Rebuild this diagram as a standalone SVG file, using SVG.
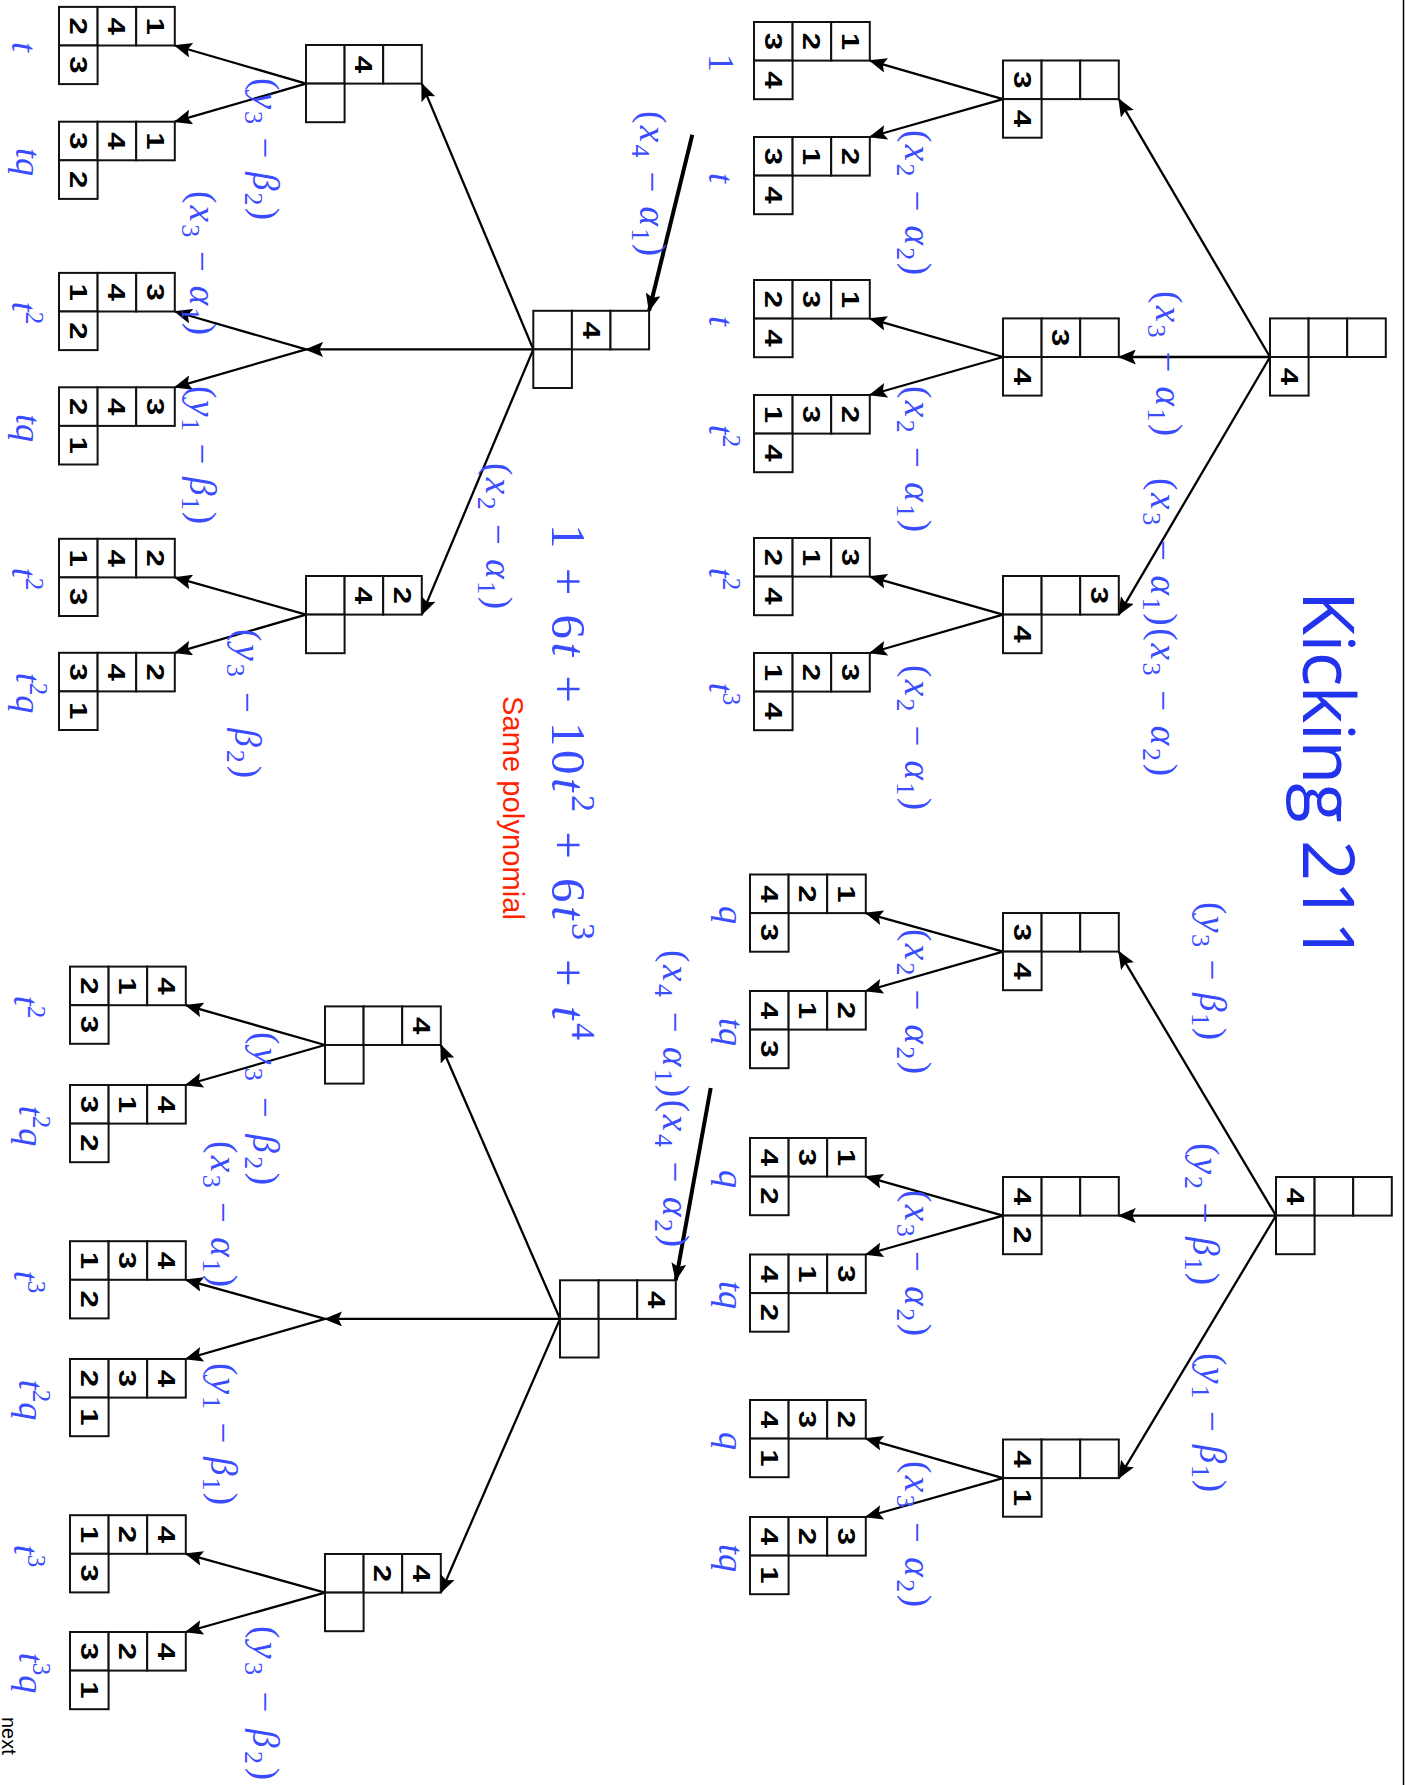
<svg xmlns="http://www.w3.org/2000/svg" width="1405" height="1785" viewBox="0 0 1405 1785">
<style>
.d{font-family:"Liberation Sans",Arial,sans-serif;font-weight:bold;font-size:24px;text-anchor:middle;fill:#000}
.e{font-family:"Liberation Serif","DejaVu Serif",serif;font-size:37px;fill:#3a4cff}
.w{font-family:"Liberation Serif","DejaVu Serif",serif;font-size:36px;fill:#3a4cff;text-anchor:middle}
.poly{font-family:"Liberation Serif","DejaVu Serif",serif;font-size:49px;fill:#3a4cff}
.i{font-style:italic}
.s{font-size:26px}
.sp{font-size:25px}
.pp{font-size:34px}
.ln{stroke:#000;stroke-width:2.3;fill:none;marker-end:url(#ah)}
.tk{stroke:#000;stroke-width:4;fill:none;marker-end:url(#ah)}
</style>
<defs>
<marker id="ah" viewBox="0 0 18 15" refX="17" refY="7.5" markerWidth="18" markerHeight="15" orient="auto" markerUnits="userSpaceOnUse"><path d="M0,0 L18,7.5 L0,15 L3.5,7.5 z" fill="#000"/></marker>
<g id="cells" fill="#fff" stroke="#111" stroke-width="2">
<rect x="0" y="0" width="38.6" height="38.6"/>
<rect x="38.6" y="0" width="38.6" height="38.6"/>
<rect x="77.2" y="0" width="38.6" height="38.6"/>
<rect x="0" y="38.6" width="38.6" height="38.6"/>
</g>
</defs>
<rect x="0" y="0" width="1405" height="1785" fill="#fff"/>
<line x1="1403.5" y1="0" x2="1403.5" y2="1785" stroke="#000" stroke-width="1.5"/>

<g id="connectors">
<line class="ln" x1="1270" y1="357" x2="1118.8" y2="99.1"/>
<line class="ln" x1="1270" y1="357" x2="1118.8" y2="357"/>
<line class="ln" x1="1270" y1="357" x2="1118.8" y2="614.6"/>
<line class="ln" x1="1003" y1="99.1" x2="869.8" y2="60.6"/>
<line class="ln" x1="1003" y1="99.1" x2="869.8" y2="137"/>
<line class="ln" x1="1003" y1="357" x2="869.8" y2="318.6"/>
<line class="ln" x1="1003" y1="357" x2="869.8" y2="395"/>
<line class="ln" x1="1003" y1="614.6" x2="869.8" y2="576.6"/>
<line class="ln" x1="1003" y1="614.6" x2="869.8" y2="653"/>
<line class="ln" x1="1276" y1="1215.6" x2="1118.8" y2="951.6"/>
<line class="ln" x1="1276" y1="1215.6" x2="1118.8" y2="1215.6"/>
<line class="ln" x1="1276" y1="1215.6" x2="1118.8" y2="1478.1"/>
<line class="ln" x1="1003" y1="951.6" x2="865.8" y2="913.1"/>
<line class="ln" x1="1003" y1="951.6" x2="865.8" y2="991"/>
<line class="ln" x1="1003" y1="1215.6" x2="865.8" y2="1176.6"/>
<line class="ln" x1="1003" y1="1215.6" x2="865.8" y2="1254.5"/>
<line class="ln" x1="1003" y1="1478.1" x2="865.8" y2="1438.6"/>
<line class="ln" x1="1003" y1="1478.1" x2="865.8" y2="1517"/>
<line class="ln" x1="533.3" y1="349.4" x2="421.8" y2="83.6"/>
<line class="ln" x1="533.3" y1="349.4" x2="306" y2="349.4"/>
<line class="ln" x1="533.3" y1="349.4" x2="421.8" y2="614.6"/>
<line class="ln" x1="306" y1="83.6" x2="174.8" y2="45.5"/>
<line class="ln" x1="306" y1="83.6" x2="174.8" y2="121.7"/>
<line class="ln" x1="306" y1="349.4" x2="174.8" y2="311.5"/>
<line class="ln" x1="306" y1="349.4" x2="174.8" y2="387.3"/>
<line class="ln" x1="306" y1="614.6" x2="174.8" y2="577.4"/>
<line class="ln" x1="306" y1="614.6" x2="174.8" y2="652.8"/>
<line class="tk" x1="692.3" y1="134.7" x2="649.1" y2="310.8"/>
<line class="ln" x1="560" y1="1318.9" x2="440.8" y2="1045"/>
<line class="ln" x1="560" y1="1318.9" x2="325" y2="1318.9"/>
<line class="ln" x1="560" y1="1318.9" x2="440.8" y2="1592.6"/>
<line class="ln" x1="325" y1="1045" x2="185.8" y2="1005.2"/>
<line class="ln" x1="325" y1="1045" x2="185.8" y2="1085"/>
<line class="ln" x1="325" y1="1318.9" x2="185.8" y2="1279.8"/>
<line class="ln" x1="325" y1="1318.9" x2="185.8" y2="1359"/>
<line class="ln" x1="325" y1="1592.6" x2="185.8" y2="1553.8"/>
<line class="ln" x1="325" y1="1592.6" x2="185.8" y2="1632"/>
<line class="tk" x1="710.7" y1="1088" x2="675.8" y2="1280.3"/>
</g>

<g id="A0" transform="translate(1270,318.4)"><use href="#cells"/><text class="d" transform="translate(19.3,57.9) rotate(90) scale(1.3,1)" dy=".36em">4</text></g>
<g id="A1" transform="translate(1003,60.5)"><use href="#cells"/><text class="d" transform="translate(19.3,19.3) rotate(90) scale(1.3,1)" dy=".36em">3</text><text class="d" transform="translate(19.3,57.9) rotate(90) scale(1.3,1)" dy=".36em">4</text></g>
<g id="A2" transform="translate(1003,318.4)"><use href="#cells"/><text class="d" transform="translate(57.9,19.3) rotate(90) scale(1.3,1)" dy=".36em">3</text><text class="d" transform="translate(19.3,57.9) rotate(90) scale(1.3,1)" dy=".36em">4</text></g>
<g id="A3" transform="translate(1003,576)"><use href="#cells"/><text class="d" transform="translate(96.5,19.3) rotate(90) scale(1.3,1)" dy=".36em">3</text><text class="d" transform="translate(19.3,57.9) rotate(90) scale(1.3,1)" dy=".36em">4</text></g>
<g id="A1a"><g transform="translate(754,22)"><use href="#cells"/><text class="d" transform="translate(19.3,19.3) rotate(90) scale(1.3,1)" dy=".36em">3</text><text class="d" transform="translate(57.9,19.3) rotate(90) scale(1.3,1)" dy=".36em">2</text><text class="d" transform="translate(96.5,19.3) rotate(90) scale(1.3,1)" dy=".36em">1</text><text class="d" transform="translate(19.3,57.9) rotate(90) scale(1.3,1)" dy=".36em">4</text></g><text class="w" transform="translate(709,63) rotate(90)">1</text></g>
<g id="A1b"><g transform="translate(754,137)"><use href="#cells"/><text class="d" transform="translate(19.3,19.3) rotate(90) scale(1.3,1)" dy=".36em">3</text><text class="d" transform="translate(57.9,19.3) rotate(90) scale(1.3,1)" dy=".36em">1</text><text class="d" transform="translate(96.5,19.3) rotate(90) scale(1.3,1)" dy=".36em">2</text><text class="d" transform="translate(19.3,57.9) rotate(90) scale(1.3,1)" dy=".36em">4</text></g><text class="w" transform="translate(709,178) rotate(90)"><tspan class="i">t</tspan></text></g>
<g id="A2a"><g transform="translate(754,280)"><use href="#cells"/><text class="d" transform="translate(19.3,19.3) rotate(90) scale(1.3,1)" dy=".36em">2</text><text class="d" transform="translate(57.9,19.3) rotate(90) scale(1.3,1)" dy=".36em">3</text><text class="d" transform="translate(96.5,19.3) rotate(90) scale(1.3,1)" dy=".36em">1</text><text class="d" transform="translate(19.3,57.9) rotate(90) scale(1.3,1)" dy=".36em">4</text></g><text class="w" transform="translate(709,321) rotate(90)"><tspan class="i">t</tspan></text></g>
<g id="A2b"><g transform="translate(754,395)"><use href="#cells"/><text class="d" transform="translate(19.3,19.3) rotate(90) scale(1.3,1)" dy=".36em">1</text><text class="d" transform="translate(57.9,19.3) rotate(90) scale(1.3,1)" dy=".36em">3</text><text class="d" transform="translate(96.5,19.3) rotate(90) scale(1.3,1)" dy=".36em">2</text><text class="d" transform="translate(19.3,57.9) rotate(90) scale(1.3,1)" dy=".36em">4</text></g><text class="w" transform="translate(709,436) rotate(90)"><tspan class="i">t</tspan><tspan class="sp" dy="-14">2</tspan></text></g>
<g id="A3a"><g transform="translate(754,538)"><use href="#cells"/><text class="d" transform="translate(19.3,19.3) rotate(90) scale(1.3,1)" dy=".36em">2</text><text class="d" transform="translate(57.9,19.3) rotate(90) scale(1.3,1)" dy=".36em">1</text><text class="d" transform="translate(96.5,19.3) rotate(90) scale(1.3,1)" dy=".36em">3</text><text class="d" transform="translate(19.3,57.9) rotate(90) scale(1.3,1)" dy=".36em">4</text></g><text class="w" transform="translate(709,579) rotate(90)"><tspan class="i">t</tspan><tspan class="sp" dy="-14">2</tspan></text></g>
<g id="A3b"><g transform="translate(754,653)"><use href="#cells"/><text class="d" transform="translate(19.3,19.3) rotate(90) scale(1.3,1)" dy=".36em">1</text><text class="d" transform="translate(57.9,19.3) rotate(90) scale(1.3,1)" dy=".36em">2</text><text class="d" transform="translate(96.5,19.3) rotate(90) scale(1.3,1)" dy=".36em">3</text><text class="d" transform="translate(19.3,57.9) rotate(90) scale(1.3,1)" dy=".36em">4</text></g><text class="w" transform="translate(709,694) rotate(90)"><tspan class="i">t</tspan><tspan class="sp" dy="-14">3</tspan></text></g>

<g id="B0" transform="translate(1276,1177)"><use href="#cells"/><text class="d" transform="translate(19.3,19.3) rotate(90) scale(1.3,1)" dy=".36em">4</text></g>
<g id="B1" transform="translate(1003,913)"><use href="#cells"/><text class="d" transform="translate(19.3,19.3) rotate(90) scale(1.3,1)" dy=".36em">3</text><text class="d" transform="translate(19.3,57.9) rotate(90) scale(1.3,1)" dy=".36em">4</text></g>
<g id="B2" transform="translate(1003,1177)"><use href="#cells"/><text class="d" transform="translate(19.3,19.3) rotate(90) scale(1.3,1)" dy=".36em">4</text><text class="d" transform="translate(19.3,57.9) rotate(90) scale(1.3,1)" dy=".36em">2</text></g>
<g id="B3" transform="translate(1003,1439.5)"><use href="#cells"/><text class="d" transform="translate(19.3,19.3) rotate(90) scale(1.3,1)" dy=".36em">4</text><text class="d" transform="translate(19.3,57.9) rotate(90) scale(1.3,1)" dy=".36em">1</text></g>
<g id="B1a"><g transform="translate(750,874.5)"><use href="#cells"/><text class="d" transform="translate(19.3,19.3) rotate(90) scale(1.3,1)" dy=".36em">4</text><text class="d" transform="translate(57.9,19.3) rotate(90) scale(1.3,1)" dy=".36em">2</text><text class="d" transform="translate(96.5,19.3) rotate(90) scale(1.3,1)" dy=".36em">1</text><text class="d" transform="translate(19.3,57.9) rotate(90) scale(1.3,1)" dy=".36em">3</text></g><text class="w" transform="translate(719,915) rotate(90)"><tspan class="i">q</tspan></text></g>
<g id="B1b"><g transform="translate(750,991)"><use href="#cells"/><text class="d" transform="translate(19.3,19.3) rotate(90) scale(1.3,1)" dy=".36em">4</text><text class="d" transform="translate(57.9,19.3) rotate(90) scale(1.3,1)" dy=".36em">1</text><text class="d" transform="translate(96.5,19.3) rotate(90) scale(1.3,1)" dy=".36em">2</text><text class="d" transform="translate(19.3,57.9) rotate(90) scale(1.3,1)" dy=".36em">3</text></g><text class="w" transform="translate(719,1032) rotate(90)"><tspan class="i">tq</tspan></text></g>
<g id="B2a"><g transform="translate(750,1138)"><use href="#cells"/><text class="d" transform="translate(19.3,19.3) rotate(90) scale(1.3,1)" dy=".36em">4</text><text class="d" transform="translate(57.9,19.3) rotate(90) scale(1.3,1)" dy=".36em">3</text><text class="d" transform="translate(96.5,19.3) rotate(90) scale(1.3,1)" dy=".36em">1</text><text class="d" transform="translate(19.3,57.9) rotate(90) scale(1.3,1)" dy=".36em">2</text></g><text class="w" transform="translate(719,1179) rotate(90)"><tspan class="i">q</tspan></text></g>
<g id="B2b"><g transform="translate(750,1254.5)"><use href="#cells"/><text class="d" transform="translate(19.3,19.3) rotate(90) scale(1.3,1)" dy=".36em">4</text><text class="d" transform="translate(57.9,19.3) rotate(90) scale(1.3,1)" dy=".36em">1</text><text class="d" transform="translate(96.5,19.3) rotate(90) scale(1.3,1)" dy=".36em">3</text><text class="d" transform="translate(19.3,57.9) rotate(90) scale(1.3,1)" dy=".36em">2</text></g><text class="w" transform="translate(719,1295) rotate(90)"><tspan class="i">tq</tspan></text></g>
<g id="B3a"><g transform="translate(750,1400)"><use href="#cells"/><text class="d" transform="translate(19.3,19.3) rotate(90) scale(1.3,1)" dy=".36em">4</text><text class="d" transform="translate(57.9,19.3) rotate(90) scale(1.3,1)" dy=".36em">3</text><text class="d" transform="translate(96.5,19.3) rotate(90) scale(1.3,1)" dy=".36em">2</text><text class="d" transform="translate(19.3,57.9) rotate(90) scale(1.3,1)" dy=".36em">1</text></g><text class="w" transform="translate(719,1441) rotate(90)"><tspan class="i">q</tspan></text></g>
<g id="B3b"><g transform="translate(750,1517)"><use href="#cells"/><text class="d" transform="translate(19.3,19.3) rotate(90) scale(1.3,1)" dy=".36em">4</text><text class="d" transform="translate(57.9,19.3) rotate(90) scale(1.3,1)" dy=".36em">2</text><text class="d" transform="translate(96.5,19.3) rotate(90) scale(1.3,1)" dy=".36em">3</text><text class="d" transform="translate(19.3,57.9) rotate(90) scale(1.3,1)" dy=".36em">1</text></g><text class="w" transform="translate(719,1558) rotate(90)"><tspan class="i">tq</tspan></text></g>

<g id="C0" transform="translate(533.3,310.8)"><use href="#cells"/><text class="d" transform="translate(57.9,19.3) rotate(90) scale(1.3,1)" dy=".36em">4</text></g>
<g id="C1" transform="translate(306,45)"><use href="#cells"/><text class="d" transform="translate(57.9,19.3) rotate(90) scale(1.3,1)" dy=".36em">4</text></g>
<g id="C3" transform="translate(306,576)"><use href="#cells"/><text class="d" transform="translate(57.9,19.3) rotate(90) scale(1.3,1)" dy=".36em">4</text><text class="d" transform="translate(96.5,19.3) rotate(90) scale(1.3,1)" dy=".36em">2</text></g>
<g id="C1a"><g transform="translate(59,6.9)"><use href="#cells"/><text class="d" transform="translate(19.3,19.3) rotate(90) scale(1.3,1)" dy=".36em">2</text><text class="d" transform="translate(57.9,19.3) rotate(90) scale(1.3,1)" dy=".36em">4</text><text class="d" transform="translate(96.5,19.3) rotate(90) scale(1.3,1)" dy=".36em">1</text><text class="d" transform="translate(19.3,57.9) rotate(90) scale(1.3,1)" dy=".36em">3</text></g><text class="w" transform="translate(12,47) rotate(90)"><tspan class="i">t</tspan></text></g>
<g id="C1b"><g transform="translate(59,121.7)"><use href="#cells"/><text class="d" transform="translate(19.3,19.3) rotate(90) scale(1.3,1)" dy=".36em">3</text><text class="d" transform="translate(57.9,19.3) rotate(90) scale(1.3,1)" dy=".36em">4</text><text class="d" transform="translate(96.5,19.3) rotate(90) scale(1.3,1)" dy=".36em">1</text><text class="d" transform="translate(19.3,57.9) rotate(90) scale(1.3,1)" dy=".36em">2</text></g><text class="w" transform="translate(16,162) rotate(90)"><tspan class="i">tq</tspan></text></g>
<g id="C2a"><g transform="translate(59,272.9)"><use href="#cells"/><text class="d" transform="translate(19.3,19.3) rotate(90) scale(1.3,1)" dy=".36em">1</text><text class="d" transform="translate(57.9,19.3) rotate(90) scale(1.3,1)" dy=".36em">4</text><text class="d" transform="translate(96.5,19.3) rotate(90) scale(1.3,1)" dy=".36em">3</text><text class="d" transform="translate(19.3,57.9) rotate(90) scale(1.3,1)" dy=".36em">2</text></g><text class="w" transform="translate(12,313) rotate(90)"><tspan class="i">t</tspan><tspan class="sp" dy="-14">2</tspan></text></g>
<g id="C2b"><g transform="translate(59,387.3)"><use href="#cells"/><text class="d" transform="translate(19.3,19.3) rotate(90) scale(1.3,1)" dy=".36em">2</text><text class="d" transform="translate(57.9,19.3) rotate(90) scale(1.3,1)" dy=".36em">4</text><text class="d" transform="translate(96.5,19.3) rotate(90) scale(1.3,1)" dy=".36em">3</text><text class="d" transform="translate(19.3,57.9) rotate(90) scale(1.3,1)" dy=".36em">1</text></g><text class="w" transform="translate(16,428) rotate(90)"><tspan class="i">tq</tspan></text></g>
<g id="C3a"><g transform="translate(59,538.8)"><use href="#cells"/><text class="d" transform="translate(19.3,19.3) rotate(90) scale(1.3,1)" dy=".36em">1</text><text class="d" transform="translate(57.9,19.3) rotate(90) scale(1.3,1)" dy=".36em">4</text><text class="d" transform="translate(96.5,19.3) rotate(90) scale(1.3,1)" dy=".36em">2</text><text class="d" transform="translate(19.3,57.9) rotate(90) scale(1.3,1)" dy=".36em">3</text></g><text class="w" transform="translate(12,579) rotate(90)"><tspan class="i">t</tspan><tspan class="sp" dy="-14">2</tspan></text></g>
<g id="C3b"><g transform="translate(59,652.8)"><use href="#cells"/><text class="d" transform="translate(19.3,19.3) rotate(90) scale(1.3,1)" dy=".36em">3</text><text class="d" transform="translate(57.9,19.3) rotate(90) scale(1.3,1)" dy=".36em">4</text><text class="d" transform="translate(96.5,19.3) rotate(90) scale(1.3,1)" dy=".36em">2</text><text class="d" transform="translate(19.3,57.9) rotate(90) scale(1.3,1)" dy=".36em">1</text></g><text class="w" transform="translate(16,693) rotate(90)"><tspan class="i">t</tspan><tspan class="sp" dy="-14">2</tspan><tspan class="i" dy="14">q</tspan></text></g>

<g id="D0" transform="translate(560,1280.3)"><use href="#cells"/><text class="d" transform="translate(96.5,19.3) rotate(90) scale(1.3,1)" dy=".36em">4</text></g>
<g id="D1" transform="translate(325,1006.4)"><use href="#cells"/><text class="d" transform="translate(96.5,19.3) rotate(90) scale(1.3,1)" dy=".36em">4</text></g>
<g id="D3" transform="translate(325,1554)"><use href="#cells"/><text class="d" transform="translate(57.9,19.3) rotate(90) scale(1.3,1)" dy=".36em">2</text><text class="d" transform="translate(96.5,19.3) rotate(90) scale(1.3,1)" dy=".36em">4</text></g>
<g id="D1a"><g transform="translate(70,966.6)"><use href="#cells"/><text class="d" transform="translate(19.3,19.3) rotate(90) scale(1.3,1)" dy=".36em">2</text><text class="d" transform="translate(57.9,19.3) rotate(90) scale(1.3,1)" dy=".36em">1</text><text class="d" transform="translate(96.5,19.3) rotate(90) scale(1.3,1)" dy=".36em">4</text><text class="d" transform="translate(19.3,57.9) rotate(90) scale(1.3,1)" dy=".36em">3</text></g><text class="w" transform="translate(14,1007) rotate(90)"><tspan class="i">t</tspan><tspan class="sp" dy="-14">2</tspan></text></g>
<g id="D1b"><g transform="translate(70,1085)"><use href="#cells"/><text class="d" transform="translate(19.3,19.3) rotate(90) scale(1.3,1)" dy=".36em">3</text><text class="d" transform="translate(57.9,19.3) rotate(90) scale(1.3,1)" dy=".36em">1</text><text class="d" transform="translate(96.5,19.3) rotate(90) scale(1.3,1)" dy=".36em">4</text><text class="d" transform="translate(19.3,57.9) rotate(90) scale(1.3,1)" dy=".36em">2</text></g><text class="w" transform="translate(19,1126) rotate(90)"><tspan class="i">t</tspan><tspan class="sp" dy="-14">2</tspan><tspan class="i" dy="14">q</tspan></text></g>
<g id="D2a"><g transform="translate(70,1241.2)"><use href="#cells"/><text class="d" transform="translate(19.3,19.3) rotate(90) scale(1.3,1)" dy=".36em">1</text><text class="d" transform="translate(57.9,19.3) rotate(90) scale(1.3,1)" dy=".36em">3</text><text class="d" transform="translate(96.5,19.3) rotate(90) scale(1.3,1)" dy=".36em">4</text><text class="d" transform="translate(19.3,57.9) rotate(90) scale(1.3,1)" dy=".36em">2</text></g><text class="w" transform="translate(14,1282) rotate(90)"><tspan class="i">t</tspan><tspan class="sp" dy="-14">3</tspan></text></g>
<g id="D2b"><g transform="translate(70,1359)"><use href="#cells"/><text class="d" transform="translate(19.3,19.3) rotate(90) scale(1.3,1)" dy=".36em">2</text><text class="d" transform="translate(57.9,19.3) rotate(90) scale(1.3,1)" dy=".36em">3</text><text class="d" transform="translate(96.5,19.3) rotate(90) scale(1.3,1)" dy=".36em">4</text><text class="d" transform="translate(19.3,57.9) rotate(90) scale(1.3,1)" dy=".36em">1</text></g><text class="w" transform="translate(19,1400) rotate(90)"><tspan class="i">t</tspan><tspan class="sp" dy="-14">2</tspan><tspan class="i" dy="14">q</tspan></text></g>
<g id="D3a"><g transform="translate(70,1515.2)"><use href="#cells"/><text class="d" transform="translate(19.3,19.3) rotate(90) scale(1.3,1)" dy=".36em">1</text><text class="d" transform="translate(57.9,19.3) rotate(90) scale(1.3,1)" dy=".36em">2</text><text class="d" transform="translate(96.5,19.3) rotate(90) scale(1.3,1)" dy=".36em">4</text><text class="d" transform="translate(19.3,57.9) rotate(90) scale(1.3,1)" dy=".36em">3</text></g><text class="w" transform="translate(14,1556) rotate(90)"><tspan class="i">t</tspan><tspan class="sp" dy="-14">3</tspan></text></g>
<g id="D3b"><g transform="translate(70,1632)"><use href="#cells"/><text class="d" transform="translate(19.3,19.3) rotate(90) scale(1.3,1)" dy=".36em">3</text><text class="d" transform="translate(57.9,19.3) rotate(90) scale(1.3,1)" dy=".36em">2</text><text class="d" transform="translate(96.5,19.3) rotate(90) scale(1.3,1)" dy=".36em">4</text><text class="d" transform="translate(19.3,57.9) rotate(90) scale(1.3,1)" dy=".36em">1</text></g><text class="w" transform="translate(19,1673) rotate(90)"><tspan class="i">t</tspan><tspan class="sp" dy="-14">3</tspan><tspan class="i" dy="14">q</tspan></text></g>

<g id="edge-labels">
<text class="e" transform="translate(1156,291) rotate(90)" textLength="145" lengthAdjust="spacing">(<tspan class="i">x</tspan><tspan class="s" dy="8">3</tspan><tspan dy="-8"> − </tspan><tspan class="i">α</tspan><tspan class="s" dy="8">1</tspan><tspan dy="-8">)</tspan></text>
<text class="e" transform="translate(1151,478) rotate(90)" textLength="298" lengthAdjust="spacing">(<tspan class="i">x</tspan><tspan class="s" dy="8">3</tspan><tspan dy="-8"> − </tspan><tspan class="i">α</tspan><tspan class="s" dy="8">1</tspan><tspan dy="-8">)(</tspan><tspan class="i">x</tspan><tspan class="s" dy="8">3</tspan><tspan dy="-8"> − </tspan><tspan class="i">α</tspan><tspan class="s" dy="8">2</tspan><tspan dy="-8">)</tspan></text>
<text class="e" transform="translate(905,130) rotate(90)" textLength="145" lengthAdjust="spacing">(<tspan class="i">x</tspan><tspan class="s" dy="8">2</tspan><tspan dy="-8"> − </tspan><tspan class="i">α</tspan><tspan class="s" dy="8">2</tspan><tspan dy="-8">)</tspan></text>
<text class="e" transform="translate(905,386) rotate(90)" textLength="146" lengthAdjust="spacing">(<tspan class="i">x</tspan><tspan class="s" dy="8">2</tspan><tspan dy="-8"> − </tspan><tspan class="i">α</tspan><tspan class="s" dy="8">1</tspan><tspan dy="-8">)</tspan></text>
<text class="e" transform="translate(905,665) rotate(90)" textLength="145" lengthAdjust="spacing">(<tspan class="i">x</tspan><tspan class="s" dy="8">2</tspan><tspan dy="-8"> − </tspan><tspan class="i">α</tspan><tspan class="s" dy="8">1</tspan><tspan dy="-8">)</tspan></text>
<text class="e" transform="translate(1200,902) rotate(90)" textLength="138" lengthAdjust="spacing">(<tspan class="i">y</tspan><tspan class="s" dy="8">3</tspan><tspan dy="-8"> − </tspan><tspan class="i">β</tspan><tspan class="s" dy="8">1</tspan><tspan dy="-8">)</tspan></text>
<text class="e" transform="translate(1193,1143) rotate(90)" textLength="142" lengthAdjust="spacing">(<tspan class="i">y</tspan><tspan class="s" dy="8">2</tspan><tspan dy="-8"> − </tspan><tspan class="i">β</tspan><tspan class="s" dy="8">1</tspan><tspan dy="-8">)</tspan></text>
<text class="e" transform="translate(1200,1353) rotate(90)" textLength="139" lengthAdjust="spacing">(<tspan class="i">y</tspan><tspan class="s" dy="8">1</tspan><tspan dy="-8"> − </tspan><tspan class="i">β</tspan><tspan class="s" dy="8">1</tspan><tspan dy="-8">)</tspan></text>
<text class="e" transform="translate(905,929) rotate(90)" textLength="145" lengthAdjust="spacing">(<tspan class="i">x</tspan><tspan class="s" dy="8">2</tspan><tspan dy="-8"> − </tspan><tspan class="i">α</tspan><tspan class="s" dy="8">2</tspan><tspan dy="-8">)</tspan></text>
<text class="e" transform="translate(905,1190) rotate(90)" textLength="146" lengthAdjust="spacing">(<tspan class="i">x</tspan><tspan class="s" dy="8">3</tspan><tspan dy="-8"> − </tspan><tspan class="i">α</tspan><tspan class="s" dy="8">2</tspan><tspan dy="-8">)</tspan></text>
<text class="e" transform="translate(905,1461) rotate(90)" textLength="146" lengthAdjust="spacing">(<tspan class="i">x</tspan><tspan class="s" dy="8">3</tspan><tspan dy="-8"> − </tspan><tspan class="i">α</tspan><tspan class="s" dy="8">2</tspan><tspan dy="-8">)</tspan></text>
<text class="e" transform="translate(663,950) rotate(90)" textLength="297" lengthAdjust="spacing">(<tspan class="i">x</tspan><tspan class="s" dy="8">4</tspan><tspan dy="-8"> − </tspan><tspan class="i">α</tspan><tspan class="s" dy="8">1</tspan><tspan dy="-8">)(</tspan><tspan class="i">x</tspan><tspan class="s" dy="8">4</tspan><tspan dy="-8"> − </tspan><tspan class="i">α</tspan><tspan class="s" dy="8">2</tspan><tspan dy="-8">)</tspan></text>
<text class="e" transform="translate(640,111) rotate(90)" textLength="145" lengthAdjust="spacing">(<tspan class="i">x</tspan><tspan class="s" dy="8">4</tspan><tspan dy="-8"> − </tspan><tspan class="i">α</tspan><tspan class="s" dy="8">1</tspan><tspan dy="-8">)</tspan></text>
<text class="e" transform="translate(486,463) rotate(90)" textLength="146" lengthAdjust="spacing">(<tspan class="i">x</tspan><tspan class="s" dy="8">2</tspan><tspan dy="-8"> − </tspan><tspan class="i">α</tspan><tspan class="s" dy="8">1</tspan><tspan dy="-8">)</tspan></text>
<text class="e" transform="translate(253,78) rotate(90)" textLength="142" lengthAdjust="spacing">(<tspan class="i">y</tspan><tspan class="s" dy="8">3</tspan><tspan dy="-8"> − </tspan><tspan class="i">β</tspan><tspan class="s" dy="8">2</tspan><tspan dy="-8">)</tspan></text>
<text class="e" transform="translate(190,191) rotate(90)" textLength="144" lengthAdjust="spacing">(<tspan class="i">x</tspan><tspan class="s" dy="8">3</tspan><tspan dy="-8"> − </tspan><tspan class="i">α</tspan><tspan class="s" dy="8">1</tspan><tspan dy="-8">)</tspan></text>
<text class="e" transform="translate(190,386) rotate(90)" textLength="138" lengthAdjust="spacing">(<tspan class="i">y</tspan><tspan class="s" dy="8">1</tspan><tspan dy="-8"> − </tspan><tspan class="i">β</tspan><tspan class="s" dy="8">1</tspan><tspan dy="-8">)</tspan></text>
<text class="e" transform="translate(235,629) rotate(90)" textLength="149" lengthAdjust="spacing">(<tspan class="i">y</tspan><tspan class="s" dy="8">3</tspan><tspan dy="-8"> − </tspan><tspan class="i">β</tspan><tspan class="s" dy="8">2</tspan><tspan dy="-8">)</tspan></text>
<text class="e" transform="translate(253,1032) rotate(90)" textLength="153" lengthAdjust="spacing">(<tspan class="i">y</tspan><tspan class="s" dy="8">3</tspan><tspan dy="-8"> − </tspan><tspan class="i">β</tspan><tspan class="s" dy="8">2</tspan><tspan dy="-8">)</tspan></text>
<text class="e" transform="translate(211,1141) rotate(90)" textLength="146" lengthAdjust="spacing">(<tspan class="i">x</tspan><tspan class="s" dy="8">3</tspan><tspan dy="-8"> − </tspan><tspan class="i">α</tspan><tspan class="s" dy="8">1</tspan><tspan dy="-8">)</tspan></text>
<text class="e" transform="translate(211,1363) rotate(90)" textLength="142" lengthAdjust="spacing">(<tspan class="i">y</tspan><tspan class="s" dy="8">1</tspan><tspan dy="-8"> − </tspan><tspan class="i">β</tspan><tspan class="s" dy="8">1</tspan><tspan dy="-8">)</tspan></text>
<text class="e" transform="translate(253,1626) rotate(90)" textLength="154" lengthAdjust="spacing">(<tspan class="i">y</tspan><tspan class="s" dy="8">3</tspan><tspan dy="-8"> − </tspan><tspan class="i">β</tspan><tspan class="s" dy="8">2</tspan><tspan dy="-8">)</tspan></text>
</g>

<g id="titles">
<text transform="translate(1303,591) rotate(90)" font-family="'Open Sans','Liberation Sans',sans-serif" font-size="72" fill="#2233ee" textLength="371" lengthAdjust="spacing">Kicking 211</text>
<text class="poly" transform="translate(552,524) rotate(90)" textLength="516" lengthAdjust="spacing">1 + 6<tspan class="i">t</tspan> + 10<tspan class="i">t</tspan><tspan class="pp" dy="-20">2</tspan><tspan dy="20"> + 6</tspan><tspan class="i">t</tspan><tspan class="pp" dy="-20">3</tspan><tspan dy="20"> + </tspan><tspan class="i">t</tspan><tspan class="pp" dy="-20">4</tspan></text>
<text transform="translate(503,696) rotate(90)" font-family="'Liberation Sans',Arial,sans-serif" font-size="29" fill="#ff2200" textLength="224" lengthAdjust="spacing">Same polynomial</text>
<text transform="translate(2,1717) rotate(90)" font-family="'Liberation Sans',Arial,sans-serif" font-size="20" fill="#000">next</text>
</g>
</svg>
